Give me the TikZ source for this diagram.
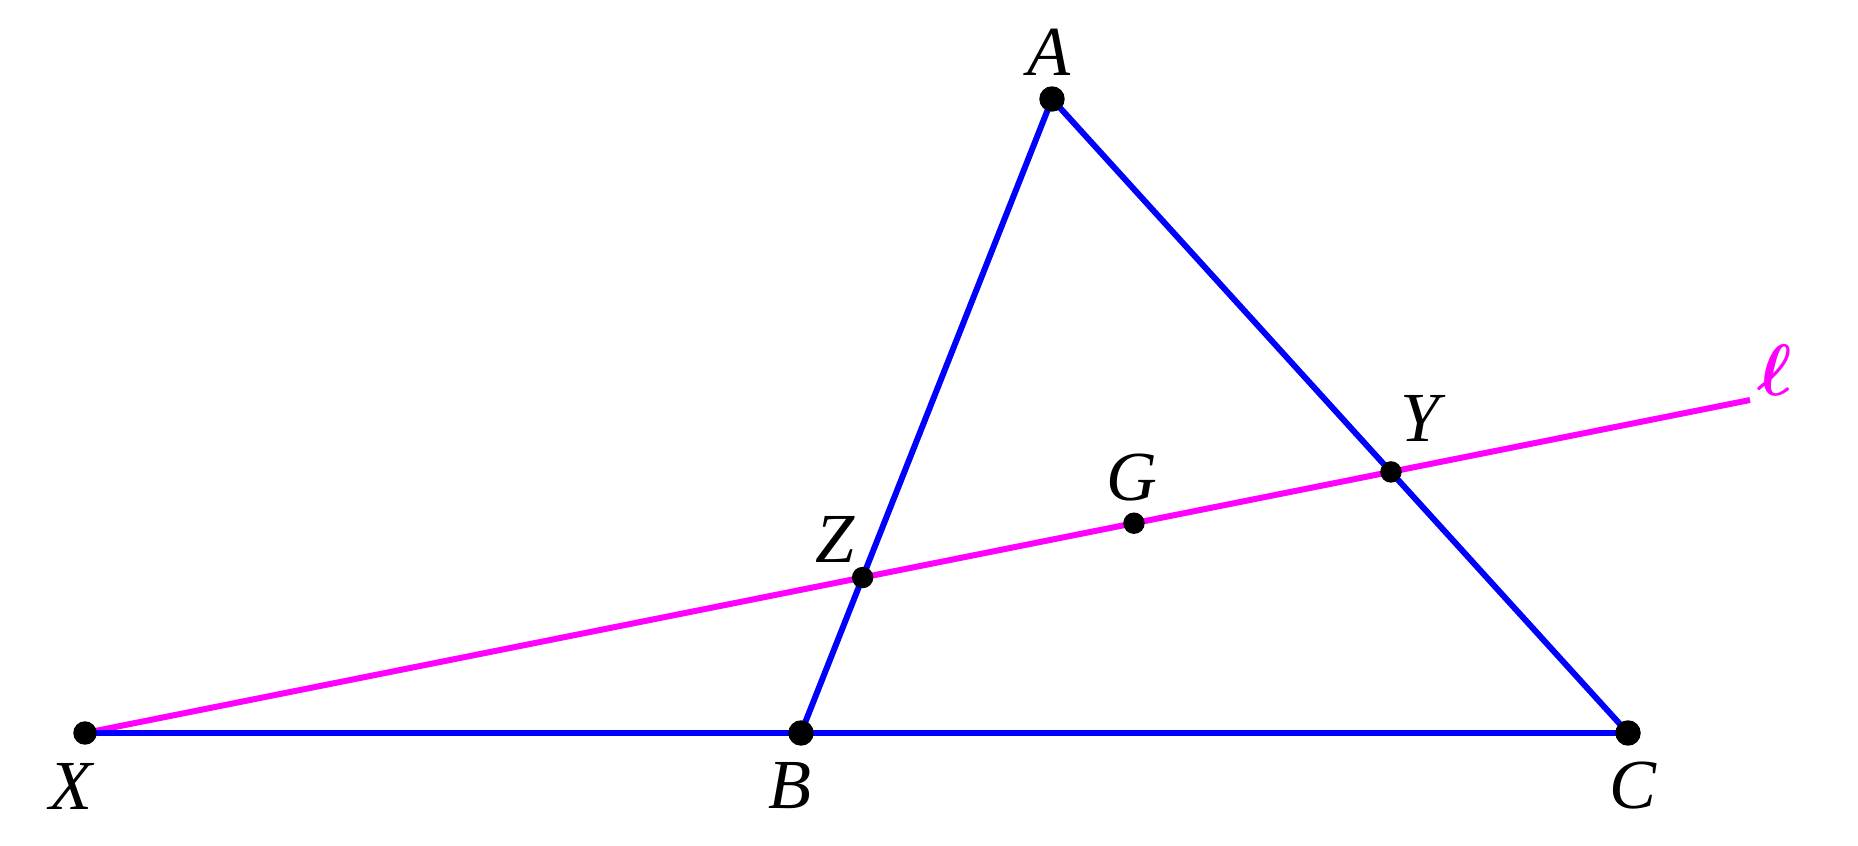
\documentclass[tikz,border=0pt]{standalone}
\usepackage{amsmath}
\usepackage{fontspec}
\setmainfont{Liberation Serif}
\usetikzlibrary{calc}
\definecolor{linemag}{RGB}{255,0,255}
\definecolor{sideblue}{RGB}{0,0,255}

\begin{document}
\begin{tikzpicture}[
  x=0.01cm,
  y=-0.01cm,
  ptlabel/.style={
    font=\fontsize{20}{24}\selectfont\itshape,
    inner sep=0pt
  },
  sideline/.style={sideblue, line width=1.7pt},
  transline/.style={linemag, line width=1.7pt}
]
\useasboundingbox (0,0) rectangle (1858,846);
\coordinate (A) at (1052,99);
\coordinate (B) at (801,733);
\coordinate (C) at (1628,733);
\coordinate (X) at (85,733);
\coordinate (L) at (1750,400);
\coordinate (Z) at (intersection of A--B and X--L);
\coordinate (Y) at (intersection of A--C and X--L);
\coordinate (G) at ($(X)!0.63!(L)$);
\draw[transline] (X) -- (L);
\draw[sideline] (X) -- (C) -- (A) -- (B);
\filldraw[black] (A) circle (0.12cm);
\filldraw[black] (B) circle (0.12cm);
\filldraw[black] (C) circle (0.12cm);
\filldraw[black] (X) circle (0.11cm);
\filldraw[black] (Y) circle (0.1cm);
\filldraw[black] (Z) circle (0.1cm);
\filldraw[black] (G) circle (0.1cm);
\node[ptlabel] (lA) at (1049,52) {A};
\node[ptlabel] (lB) at (790,786) {B};
\node[ptlabel] (lC) at (1633,786) {C};
\node[ptlabel] (lX) at (71,786) {X};
\node[ptlabel] (lY) at (1420,418) {Y};
\node[ptlabel] (lZ) at (835,539) {Z};
\node[ptlabel] (lG) at (1132,478) {G};
\node[ptlabel, linemag] (ll) at (1775,370) {$\boldsymbol{\ell}$};
\end{tikzpicture}
\end{document}
